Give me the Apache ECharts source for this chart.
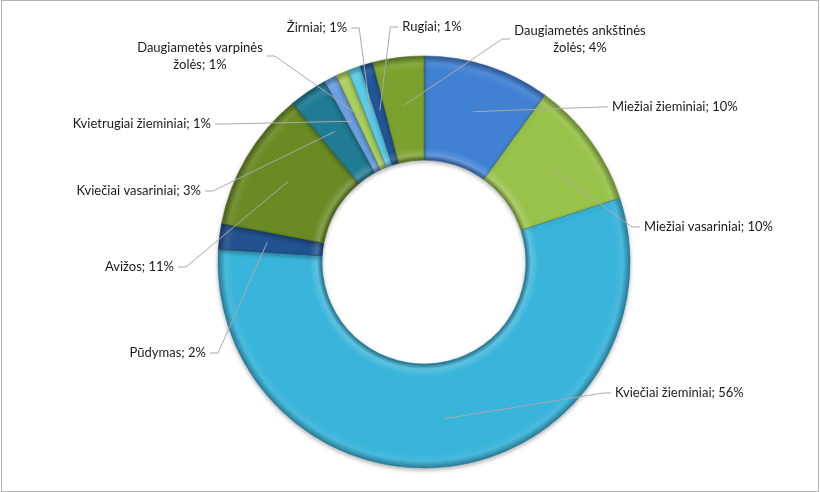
<!DOCTYPE html>
<html>
<head>
<meta charset="utf-8">
<script src="https://cdn.jsdelivr.net/npm/echarts@6/dist/echarts.min.js"></script>
<style>
  html, body { margin: 0; padding: 0; background: #fff; }
  #chart { position: absolute; left: 0; top: 0; width: 820px; height: 492px; }
  #frame { position: absolute; left: 1px; top: 0; width: 816px; height: 490px; border: 1px solid #b4b4b4; pointer-events: none; }
</style>
</head>
<body>
<div id="chart"></div>
<div id="frame"></div>
<script>
// crop shares, percent, clockwise from 12 o'clock
const categories = [
  'Miežiai žieminiai',
  'Miežiai vasariniai',
  'Kviečiai žieminiai',
  'Pūdymas',
  'Avižos',
  'Kviečiai vasariniai',
  'Kvietrugiai žieminiai',
  'Daugiametės varpinės žolės',
  'Žirniai',
  'Rugiai',
  'Daugiametės ankštinės žolės'
]
const shares = [10, 10, 56, 2, 11, 3, 1, 1, 1, 1, 4]

const sliceColors = [
  '#4181d4', '#98c24a', '#39b4da', '#22528f', '#6a8a24', '#1f7c94',
  '#6ba0e0', '#abd15c', '#5ccbe8', '#23569a', '#7ba22e'
]

// label placement [x, y, align]
const labelPos = [
  [612, 107, 'left'],
  [644, 227, 'left'],
  [615, 393, 'left'],
  [206, 353, 'right'],
  [174, 267, 'right'],
  [201, 191, 'right'],
  [211, 124, 'right'],
  [200, 56, 'center'],
  [317, 28, 'center'],
  [432, 27, 'center'],
  [580, 39, 'center']
]

const CX = 424, CY = 262, R0 = 102, R1 = 206

function shade(hex, f) {
  const n = parseInt(hex.slice(1), 16)
  let r = (n >> 16) & 255, g = (n >> 8) & 255, b = n & 255
  const t = f < 0 ? 0 : 255
  const p = Math.abs(f)
  r = Math.round((t - r) * p + r)
  g = Math.round((t - g) * p + g)
  b = Math.round((t - b) * p + b)
  return 'rgb(' + r + ',' + g + ',' + b + ')'
}

function bevel(c) {
  const k = R0 / R1
  return {
    type: 'radial', x: CX, y: CY, r: R1, global: true,
    colorStops: [
      { offset: 0, color: shade(c, -0.35) },
      { offset: k, color: shade(c, -0.35) },
      { offset: k + 0.025, color: shade(c, 0.18) },
      { offset: k + 0.06, color: c },
      { offset: 0.93, color: c },
      { offset: 0.965, color: shade(c, 0.08) },
      { offset: 1, color: shade(c, -0.3) }
    ]
  }
}

const chart = echarts.init(document.getElementById('chart'), null, { renderer: 'canvas' })

const ringData = categories.map((name, i) => ({
  name,
  value: shares[i],
  itemStyle: { color: bevel(sliceColors[i]), borderColor: shade(sliceColors[i], -0.3) }
}))
const labelData = categories.map((name, i) => ({ name, value: shares[i] }))

chart.setOption({
  animation: false,
  series: [
    {
      type: 'pie',
      z: 1,
      center: [CX, CY],
      radius: [R0, R1],
      startAngle: 90,
      clockwise: true,
      silent: true,
      label: { show: false },
      labelLine: { show: false },
      itemStyle: {
        borderWidth: 0.6,
        shadowColor: 'rgba(0,0,0,0.3)',
        shadowBlur: 4,
        shadowOffsetY: 2
      },
      data: ringData
    },
    {
      // transparent helper ring: its labels anchor at the middle of the band
      type: 'pie',
      z: 5,
      center: [CX, CY],
      radius: [0, 158],
      startAngle: 90,
      clockwise: true,
      silent: true,
      avoidLabelOverlap: false,
      itemStyle: { color: 'rgba(0,0,0,0)' },
      label: {
        show: true,
        position: 'outside',
        color: '#1a1a1a',
        fontFamily: 'Lato',
        fontSize: 13,
        lineHeight: 17,
        formatter: p => {
          let n = p.name
          if (n.length > 24) {
            const k = n.lastIndexOf(' ')
            n = n.slice(0, k) + '\n' + n.slice(k + 1)
          }
          return n + '; ' + p.value + '%'
        }
      },
      labelLine: { show: true, lineStyle: { color: '#a9a9a9', width: 1 } },
      labelLayout: params => {
        const pos = labelPos[params.dataIndex]
        const x = pos[0], y = pos[1], align = pos[2]
        const w = params.labelRect.width
        const anchor = params.labelLinePoints ? params.labelLinePoints[0] : [CX, CY]
        let end, bend
        if (align === 'left') {
          end = [x - 4, y]; bend = [x - 12, y]
        } else if (align === 'right') {
          end = [x + 4, y]; bend = [x + 12, y]
        } else if (anchor[0] > x) {
          end = [x + w / 2 + 4, y]; bend = [x + w / 2 + 12, y]
        } else {
          end = [x - w / 2 - 4, y]; bend = [x - w / 2 - 12, y]
        }
        return {
          x, y, align, verticalAlign: 'middle',
          labelLinePoints: [anchor, bend, end]
        }
      },
      data: labelData
    }
  ]
})
</script>
</body>
</html>
